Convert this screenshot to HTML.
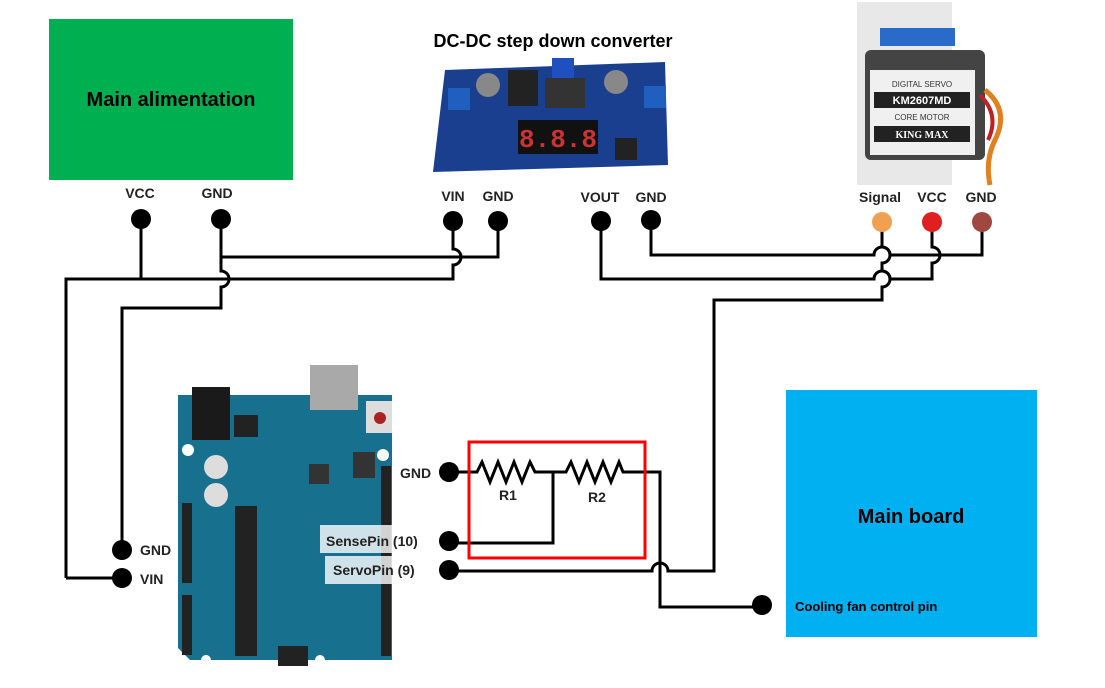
<!DOCTYPE html>
<html><head><meta charset="utf-8"><style>
body{margin:0;width:1105px;height:688px;background:#fff;overflow:hidden;font-family:"Liberation Sans","DejaVu Sans",sans-serif}
svg{position:absolute;left:0;top:0}
</style></head><body>
<svg width="1105" height="688" viewBox="0 0 1105 688" font-family="Liberation Sans, DejaVu Sans, sans-serif" font-weight="bold">
<!-- main alimentation -->
<rect x="49" y="19" width="244" height="161" fill="#00b050"/>
<text x="171" y="106" font-size="20" text-anchor="middle" fill="#000">Main alimentation</text>
<!-- main board -->
<rect x="786" y="390" width="251" height="247" fill="#00b0f0"/>
<text x="911" y="523" font-size="20" text-anchor="middle" fill="#000">Main board</text>
<text x="795" y="611" font-size="13" fill="#000">Cooling fan control pin</text>
<!-- converter -->
<text x="553" y="47" font-size="18" text-anchor="middle">DC-DC step down converter</text>
<g>
<polygon points="445,70 665,62 668,165 433,172" fill="#1b3f8f"/>
<rect x="448" y="88" width="22" height="22" fill="#1e5fbf"/>
<rect x="644" y="86" width="22" height="22" fill="#1e5fbf"/>
<circle cx="488" cy="85" r="12" fill="#888"/><circle cx="616" cy="82" r="12" fill="#888"/>
<rect x="508" y="70" width="30" height="36" fill="#222"/>
<rect x="545" y="78" width="40" height="30" fill="#333"/>
<rect x="552" y="58" width="22" height="20" fill="#2050c0"/>
<rect x="518" y="120" width="80" height="34" fill="#111"/>
<text x="558" y="147" font-size="26" fill="#c33" text-anchor="middle" font-family="Liberation Mono, monospace">8.8.8</text>
<rect x="615" y="138" width="22" height="22" fill="#222"/>
</g>
<!-- servo -->
<g>
<rect x="857" y="2" width="95" height="183" fill="#e8e8e8"/>
<rect x="880" y="28" width="75" height="18" fill="#2a6ac8"/>
<rect x="865" y="50" width="120" height="110" rx="6" fill="#444"/>
<rect x="870" y="70" width="105" height="85" fill="#f0f0f0"/>
<text x="922" y="87" font-size="8" fill="#333" text-anchor="middle" font-weight="normal">DIGITAL SERVO</text>
<rect x="874" y="92" width="96" height="16" fill="#222"/>
<text x="922" y="104" font-size="11" fill="#fff" text-anchor="middle">KM2607MD</text>
<text x="922" y="120" font-size="8" fill="#333" text-anchor="middle" font-weight="normal">CORE MOTOR</text>
<rect x="874" y="126" width="96" height="16" fill="#222"/>
<text x="922" y="138" font-size="10" fill="#fff" text-anchor="middle" font-family="Liberation Serif, serif">KING MAX</text>
<path d="M985,90 Q1010,110 995,140 Q985,160 990,185" stroke="#e08020" stroke-width="5" fill="none"/>
<path d="M980,95 Q1000,115 988,140" stroke="#c02020" stroke-width="4" fill="none"/>
</g>
<!-- arduino -->
<g>
<path d="M178,395 H392 V660 H190 L178,648 Z" fill="#18708f"/>
<rect x="310" y="365" width="48" height="45" fill="#a9a9a9"/>
<rect x="192" y="387" width="38" height="53" fill="#1a1a1a"/>
<rect x="234" y="415" width="24" height="22" fill="#222"/>
<rect x="366" y="401" width="26" height="32" fill="#ddd"/><circle cx="380" cy="418" r="6" fill="#a22"/>
<circle cx="188" cy="450" r="6" fill="#fff"/><circle cx="383" cy="455" r="6" fill="#fff"/>
<circle cx="216" cy="467" r="12" fill="#ddd"/><circle cx="216" cy="495" r="12" fill="#ddd"/>
<rect x="309" y="464" width="20" height="20" fill="#333"/>
<rect x="353" y="452" width="22" height="26" fill="#333"/>
<rect x="235" y="506" width="22" height="150" fill="#222"/>
<rect x="182" y="503" width="10" height="80" fill="#222"/>
<rect x="182" y="595" width="10" height="60" fill="#222"/>
<rect x="381" y="466" width="10" height="190" fill="#222"/>
<rect x="278" y="646" width="30" height="20" fill="#222"/>
<circle cx="206" cy="660" r="5" fill="#fff"/><circle cx="320" cy="660" r="5" fill="#fff"/>
<rect x="320" y="525" width="112" height="28" fill="#fff" opacity="0.8"/>
<rect x="325" y="556" width="108" height="28" fill="#fff" opacity="0.8"/>
</g>
<g font-size="14" fill="#222">
<text x="326" y="546">SensePin (10)</text>
<text x="333" y="575">ServoPin (9)</text>
<text x="400" y="478">GND</text>
<text x="140" y="555">GND</text>
<text x="140" y="584">VIN</text>
<text x="140" y="198" text-anchor="middle">VCC</text>
<text x="217" y="198" text-anchor="middle">GND</text>
<text x="453" y="201" text-anchor="middle">VIN</text>
<text x="498" y="201" text-anchor="middle">GND</text>
<text x="600" y="202" text-anchor="middle">VOUT</text>
<text x="651" y="202" text-anchor="middle">GND</text>
<text x="880" y="202" text-anchor="middle">Signal</text>
<text x="932" y="202" text-anchor="middle">VCC</text>
<text x="981" y="202" text-anchor="middle">GND</text>
<text x="508" y="500" text-anchor="middle">R1</text>
<text x="597" y="502" text-anchor="middle">R2</text>
</g>
<!-- wires -->
<g stroke="#000" stroke-width="3" fill="none">
<path d="M141,220 V279"/>
<path d="M66,578 V279 H453 V265 a8,8 0 0,0 0,-16 V221"/>
<path d="M221,220 V257 H498 V221"/>
<path d="M221,257 V271 a8,8 0 0,1 0,16 V308 H122 V549"/>
<path d="M66,578 H122"/>
<path d="M601,221 V279 H874 a8,8 0 0,1 16,0 H932 V263 a8,8 0 0,0 0,-16 V222"/>
<path d="M651,220 V255 H874 a8,8 0 0,1 16,0 H982 V222"/>
<path d="M882,222 V247 a8,8 0 0,1 0,16 V271 a8,8 0 0,1 0,16 V300 H714 V571 H668 a8,8 0 0,0 -16,0 H451"/>
<path d="M449,472 H477 l5,-10 l8,20 l8,-20 l8,20 l8,-20 l8,20 l8,-20 l5,10 H566 l5,-10 l8,20 l8,-20 l8,20 l8,-20 l8,20 l8,-20 l4,10 H660 V607 H762"/>
<path d="M553,472 V543 H449"/>
</g>
<rect x="469" y="442" width="176" height="116" fill="none" stroke="#f00" stroke-width="3"/>
<g fill="#000">
<circle cx="141" cy="219" r="10"/><circle cx="221" cy="219" r="10"/>
<circle cx="453" cy="221" r="10"/><circle cx="498" cy="221" r="10"/>
<circle cx="601" cy="221" r="10"/><circle cx="651" cy="220" r="10"/>
<circle cx="122" cy="550" r="10"/><circle cx="122" cy="578" r="10"/>
<circle cx="449" cy="472" r="10"/><circle cx="449" cy="541" r="10"/><circle cx="449" cy="570" r="10"/>
<circle cx="762" cy="605" r="10"/>
</g>
<circle cx="882" cy="222" r="10" fill="#f0a050"/>
<circle cx="932" cy="222" r="10" fill="#e02020"/>
<circle cx="982" cy="222" r="10" fill="#a04840"/>
</svg>
</body></html>
